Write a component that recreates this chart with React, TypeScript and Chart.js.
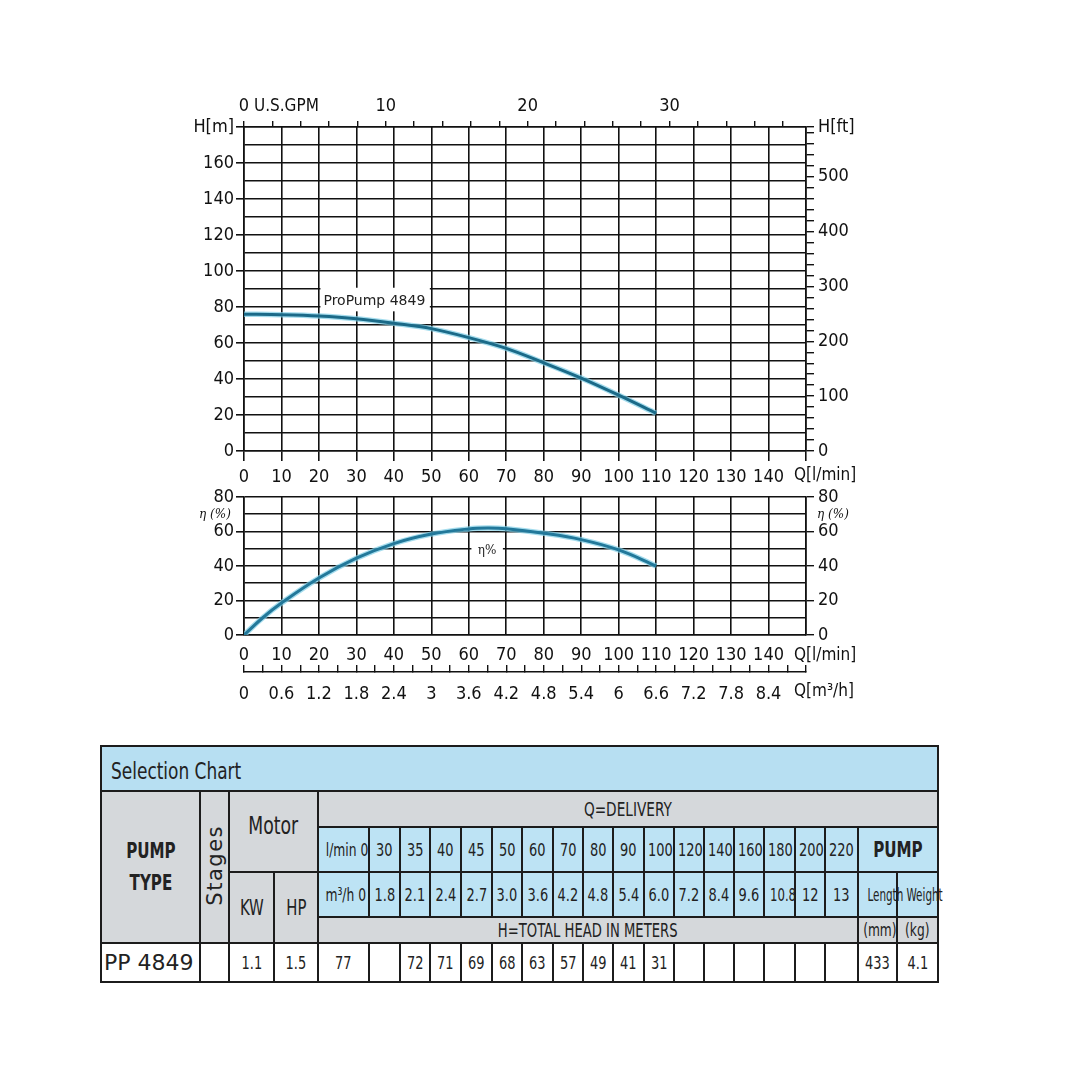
import { useEffect, useRef } from 'react';
import type { CSSProperties, ReactNode } from 'react';
import { Chart, registerables } from 'chart.js';
import type { Plugin } from 'chart.js';

Chart.register(...registerables);

// head curve (l/min -> m)
const headFlow = [0, 10, 20, 30, 40, 50, 60, 70, 80, 90, 100, 110];
const headM = [76, 75.7, 75, 73.5, 71, 68, 63, 57, 49, 40.5, 31, 21];

// efficiency curve (l/min -> %)
const effFlow = [0, 5, 10, 20, 30, 40, 50, 60, 65, 70, 80, 90, 100, 110];
const effPct = [0, 10, 18.5, 33, 44.5, 53, 58.5, 61.5, 62, 61.6, 59, 55.3, 49.3, 40];

// tick labels
const flowLabels = [0, 10, 20, 30, 40, 50, 60, 70, 80, 90, 100, 110, 120, 130, 140];
const headLabels = [0, 20, 40, 60, 80, 100, 120, 140, 160];
const ftLabels = [0, 100, 200, 300, 400, 500];
const gpmLabels = [0, 10, 20, 30];
const effLabels = [0, 20, 40, 60, 80];
const m3hLabels = ['0', '0.6', '1.2', '1.8', '2.4', '3', '3.6', '4.2', '4.8', '5.4', '6', '6.6', '7.2', '7.8', '8.4'];

// selection table
const tableLmin = ['30', '35', '40', '45', '50', '60', '70', '80', '90', '100', '120', '140', '160', '180', '200', '220'];
const tableM3h = ['1.8', '2.1', '2.4', '2.7', '3.0', '3.6', '4.2', '4.8', '5.4', '6.0', '7.2', '8.4', '9.6', '10.8', '12', '13'];
const tableHead = ['', '72', '71', '69', '68', '63', '57', '49', '41', '31', '', '', '', '', '', ''];
const colWidths = [99, 29, 45, 44, 51, 31, 30, 31, 31, 30, 31, 30, 30, 31, 30, 30, 30, 30, 31, 30, 33, 39, 41];

const FLOW_MAX = 150;
const HEAD_MAX = 180;
const LMIN_PER_GPM = 3.78541;
const FT_PER_M = 3.28084;

const INK = '#111';
const AXIS_FONT = '"DejaVu Sans Condensed", "DejaVu Sans", sans-serif';
const tickFont = { family: AXIS_FONT, size: 18 };
const CURVE = '#1b6a88';
const GLOW = 'rgba(125,205,230,0.7)';

const showEvery20 = (c: any) => (c.tick && c.tick.value % 20 === 0 ? INK : 'rgba(0,0,0,0)');

const headNotes: Plugin = {
  id: 'headNotes',
  afterDraw(chart) {
    const { ctx, chartArea: a, scales } = chart;
    const x = scales.x;
    const y = scales.y;
    ctx.save();
    ctx.fillStyle = INK;
    ctx.textBaseline = 'middle';
    ctx.textAlign = 'left';
    ctx.font = `17px ${AXIS_FONT}`;
    ctx.fillText('U.S.GPM', scales.x2.getPixelForValue(0) + 10, a.top - 20);
    ctx.fillText('Q[l/min]', a.right - 12, a.bottom + 25);
    const l = x.getPixelForValue(20) + 1.5;
    const r = x.getPixelForValue(49.6);
    const t = y.getPixelForValue(90.7);
    const b = y.getPixelForValue(77.6);
    ctx.fillStyle = '#fff';
    ctx.fillRect(l, t, r - l, b - t);
    ctx.fillStyle = '#222';
    ctx.font = '14px "DejaVu Sans", sans-serif';
    ctx.fillText('ProPump 4849', l + 3, (t + b) / 2 + 2);
    ctx.restore();
  },
};

const effNotes: Plugin = {
  id: 'effNotes',
  afterDraw(chart) {
    const { ctx, chartArea: a, scales } = chart;
    const x = scales.x;
    const y = scales.y;
    ctx.save();
    ctx.fillStyle = INK;
    ctx.textBaseline = 'middle';
    ctx.textAlign = 'center';
    ctx.font = 'italic 12px "DejaVu Serif", serif';
    ctx.fillText('η (%)', a.left - 29, y.getPixelForValue(70) + 1);
    ctx.fillText('η (%)', a.right + 27, y.getPixelForValue(70) + 1);
    const l = x.getPixelForValue(60.7);
    const r = x.getPixelForValue(69.1);
    const t = y.getPixelForValue(55);
    const b = y.getPixelForValue(42.3);
    ctx.fillStyle = '#fff';
    ctx.fillRect(l, t, r - l, b - t);
    ctx.fillStyle = '#222';
    ctx.font = '12px "DejaVu Serif", serif';
    ctx.fillText('η%', (l + r) / 2, (t + b) / 2);
    ctx.textAlign = 'left';
    ctx.fillStyle = INK;
    ctx.font = `17px ${AXIS_FONT}`;
    ctx.fillText('Q[l/min]', a.right - 12, a.bottom + 21);
    ctx.fillText('Q[m³/h]', a.right - 12, a.bottom + 57);
    ctx.restore();
  },
};

function HeadChart() {
  const canvasRef = useRef<HTMLCanvasElement>(null);

  useEffect(() => {
    if (!canvasRef.current) return;
    const pts = headFlow.map((q, i) => ({ x: q, y: headM[i] }));
    const chart = new Chart(canvasRef.current, {
      type: 'line',
      data: {
        datasets: [
          { data: pts, borderColor: CURVE, borderWidth: 3, pointRadius: 0, cubicInterpolationMode: 'monotone', order: 0 },
          { data: pts, borderColor: GLOW, borderWidth: 5.5, pointRadius: 0, cubicInterpolationMode: 'monotone', order: 1 },
        ],
      },
      options: {
        responsive: false,
        animation: false,
        events: [],
        layout: { padding: 0 },
        plugins: { legend: { display: false }, tooltip: { enabled: false } },
        scales: {
          x: {
            type: 'linear', position: 'bottom', min: 0, max: FLOW_MAX,
            ticks: { stepSize: 10, autoSkip: false, maxRotation: 0, font: tickFont, color: INK, padding: 6,
              callback: (v: any) => (flowLabels.includes(v) ? String(v) : '') },
            grid: { color: INK, lineWidth: 1.6, tickLength: 10 },
            border: { display: true, color: INK, width: 1.6 },
            afterFit: (s: any) => { s.height = 39; },
          },
          x2: {
            type: 'linear', position: 'top', min: 0, max: FLOW_MAX / LMIN_PER_GPM,
            afterBuildTicks: (s: any) => {
              const t = [];
              for (let v = 0; v <= 38; v += 2) t.push({ value: v });
              s.ticks = t;
            },
            ticks: { autoSkip: false, maxRotation: 0, font: tickFont, color: INK, padding: 4,
              callback: (v: any) => (gpmLabels.includes(v) ? String(v) : '') },
            grid: { drawOnChartArea: false, color: INK, lineWidth: 1.4, tickLength: 6 },
            border: { display: true, color: INK, width: 1.6 },
            afterFit: (s: any) => { s.height = 47; },
          },
          y: {
            type: 'linear', position: 'left', min: 0, max: HEAD_MAX,
            ticks: { stepSize: 10, autoSkip: false, font: tickFont, color: INK, padding: 2,
              callback: (v: any) => (v === HEAD_MAX ? 'H[m]' : headLabels.includes(v) ? String(v) : '') },
            grid: { color: INK, lineWidth: 1.6, tickLength: 8, tickColor: showEvery20 },
            border: { display: true, color: INK, width: 1.6 },
            afterFit: (s: any) => { s.width = 74; },
          },
          y2: {
            type: 'linear', position: 'right', min: 0, max: HEAD_MAX * FT_PER_M,
            afterBuildTicks: (s: any) => {
              const t = [];
              for (let v = 0; v <= 580; v += 20) t.push({ value: v });
              t.push({ value: HEAD_MAX * FT_PER_M });
              s.ticks = t;
            },
            ticks: { autoSkip: false, font: tickFont, color: INK, padding: 4,
              callback: (v: any) => (v > 585 ? 'H[ft]' : ftLabels.includes(v) ? String(v) : '') },
            grid: { drawOnChartArea: false, color: INK, lineWidth: 1.4, tickLength: 8 },
            border: { display: true, color: INK, width: 1.6 },
            afterFit: (s: any) => { s.width = 64; },
          },
        },
      },
      plugins: [headNotes],
    });
    return () => chart.destroy();
  }, []);

  return (
    <canvas ref={canvasRef} width={700} height={410}
      style={{ position: 'absolute', left: 170, top: 80, width: 700, height: 410 }} />
  );
}

function EffChart() {
  const canvasRef = useRef<HTMLCanvasElement>(null);

  useEffect(() => {
    if (!canvasRef.current) return;
    const pts = effFlow.map((q, i) => ({ x: q, y: effPct[i] }));
    const chart = new Chart(canvasRef.current, {
      type: 'line',
      data: {
        datasets: [
          { data: pts, borderColor: '#22789a', borderWidth: 3, pointRadius: 0, tension: 0.4, order: 0 },
          { data: pts, borderColor: GLOW, borderWidth: 5.5, pointRadius: 0, tension: 0.4, order: 1 },
        ],
      },
      options: {
        responsive: false,
        animation: false,
        events: [],
        layout: { padding: { top: 17 } },
        plugins: { legend: { display: false }, tooltip: { enabled: false } },
        scales: {
          x: {
            type: 'linear', position: 'bottom', min: 0, max: FLOW_MAX, weight: 0,
            ticks: { stepSize: 10, autoSkip: false, maxRotation: 0, font: tickFont, color: INK, padding: 10,
              callback: (v: any) => (flowLabels.includes(v) ? String(v) : '') },
            grid: { color: INK, lineWidth: 1.6, drawTicks: false },
            border: { display: true, color: INK, width: 1.6 },
            afterFit: (s: any) => { s.height = 37; },
          },
          x3: {
            type: 'linear', position: 'bottom', min: 0, max: 9, weight: 1,
            afterBuildTicks: (s: any) => {
              const t = [];
              for (let i = 0; i <= 30; i++) t.push({ value: i * 0.3 });
              s.ticks = t;
            },
            ticks: { autoSkip: false, maxRotation: 0, font: tickFont, color: INK, padding: 19,
              callback: (_v: any, i: number) => (i % 2 === 0 && i / 2 < m3hLabels.length ? m3hLabels[i / 2] : '') },
            grid: { drawOnChartArea: false, color: INK, lineWidth: 1.4, tickLength: -7 },
            border: { display: true, color: INK, width: 1.6 },
            afterFit: (s: any) => { s.height = 43; },
          },
          y: {
            type: 'linear', position: 'left', min: 0, max: 80,
            ticks: { stepSize: 10, autoSkip: false, font: tickFont, color: INK, padding: 2,
              callback: (v: any) => (effLabels.includes(v) ? String(v) : '') },
            grid: { color: INK, lineWidth: 1.6, tickLength: 8, tickColor: showEvery20 },
            border: { display: true, color: INK, width: 1.6 },
            afterFit: (s: any) => { s.width = 74; },
          },
          y2: {
            type: 'linear', position: 'right', min: 0, max: 80,
            ticks: { stepSize: 10, autoSkip: false, font: tickFont, color: INK, padding: 4,
              callback: (v: any) => (effLabels.includes(v) ? String(v) : '') },
            grid: { drawOnChartArea: false, color: INK, lineWidth: 1.4, tickLength: 8, tickColor: showEvery20 },
            border: { display: true, color: INK, width: 1.6 },
            afterFit: (s: any) => { s.width = 64; },
          },
        },
      },
      plugins: [effNotes],
    });
    return () => chart.destroy();
  }, []);

  return (
    <canvas ref={canvasRef} width={700} height={235}
      style={{ position: 'absolute', left: 170, top: 480, width: 700, height: 235 }} />
  );
}

const NARROW = '"DejaVu Sans Condensed", "DejaVu Sans", sans-serif';
const TITLE_BG = '#b7dff2';
const BLUE = '#bde3f4';
const GREY = '#d5d8db';
const LINE = '2px solid #1c1c1c';

// the sheet uses a very narrow face, so squeeze the condensed one
function Td({ bg, k = 0.8, left = false, children, style = {}, ...rest }:
  { bg: string; k?: number; left?: boolean; children?: ReactNode; style?: CSSProperties; colSpan?: number; rowSpan?: number }) {
  return (
    <td {...rest} style={{
      background: bg, border: LINE, padding: 0, textAlign: left ? 'left' : 'center', verticalAlign: 'middle',
      whiteSpace: 'nowrap', overflow: 'visible', fontSize: 18, ...style,
    }}>
      <span style={{ display: 'inline-block', transform: `scaleX(${k})`, transformOrigin: left ? 'left center' : 'center' }}>
        {children}
      </span>
    </td>
  );
}

function SelectionTable() {
  return (
    <table style={{
      position: 'absolute', left: 100, top: 745, width: 837, borderCollapse: 'collapse',
      tableLayout: 'fixed', fontFamily: NARROW, color: '#222',
    }}>
      <colgroup>
        {colWidths.map((w, i) => <col key={i} style={{ width: w }} />)}
      </colgroup>
      <tbody>
        <tr style={{ height: 45 }}>
          <Td bg={TITLE_BG} colSpan={23} left k={0.82} style={{ paddingLeft: 9, fontSize: 23, paddingTop: 4 }}>
            Selection Chart
          </Td>
        </tr>
        <tr style={{ height: 36 }}>
          <Td bg={GREY} rowSpan={4} style={{ fontWeight: 'bold', fontSize: 21, lineHeight: '32px' }}>PUMP<br />TYPE</Td>
          <td rowSpan={4} style={{ background: GREY, border: LINE, padding: 0, textAlign: 'center', verticalAlign: 'middle' }}>
            <span style={{
              display: 'inline-block', writingMode: 'vertical-rl', transform: 'rotate(180deg)',
              fontFamily: '"DejaVu Sans", sans-serif', fontSize: 21, letterSpacing: 1.5,
            }}>Stages</span>
          </td>
          <Td bg={GREY} colSpan={2} rowSpan={2} style={{ fontSize: 24, verticalAlign: 'top', paddingTop: 20 }}>Motor</Td>
          <Td bg={GREY} colSpan={19} k={0.76} style={{ fontSize: 20 }}>Q=DELIVERY</Td>
        </tr>
        <tr style={{ height: 45 }}>
          <Td bg={BLUE} k={0.76}>l/min 0</Td>
          {tableLmin.map((v, i) => <Td key={i} bg={BLUE}>{v}</Td>)}
          <Td bg={BLUE} colSpan={2} style={{ fontWeight: 'bold', fontSize: 21 }}>PUMP</Td>
        </tr>
        <tr style={{ height: 45 }}>
          <Td bg={GREY} rowSpan={2} k={0.75} style={{ fontSize: 22 }}>KW</Td>
          <Td bg={GREY} rowSpan={2} k={0.75} style={{ fontSize: 22 }}>HP</Td>
          <Td bg={BLUE} k={0.76}>m³/h 0</Td>
          {tableM3h.map((v, i) => <Td key={i} bg={BLUE} k={v.length > 3 ? 0.72 : 0.8}>{v}</Td>)}
          <Td bg={BLUE} k={0.68} style={{ fontSize: 17 }}>Length</Td>
          <Td bg={BLUE} k={0.68} style={{ fontSize: 17 }}>Weight</Td>
        </tr>
        <tr style={{ height: 26 }}>
          <Td bg={GREY} colSpan={17} k={0.77} style={{ fontSize: 19 }}>H=TOTAL HEAD IN METERS</Td>
          <Td bg={GREY} style={{ fontSize: 17 }}>(mm)</Td>
          <Td bg={GREY} style={{ fontSize: 17 }}>(kg)</Td>
        </tr>
        <tr style={{ height: 39 }}>
          <Td bg="#fff" left k={1} style={{ paddingLeft: 2, fontFamily: '"DejaVu Sans", sans-serif', fontSize: 22 }}>PP 4849</Td>
          <Td bg="#fff"></Td>
          <Td bg="#fff">1.1</Td>
          <Td bg="#fff">1.5</Td>
          <Td bg="#fff">77</Td>
          {tableHead.map((v, i) => <Td key={i} bg="#fff">{v}</Td>)}
          <Td bg="#fff">433</Td>
          <Td bg="#fff">4.1</Td>
        </tr>
      </tbody>
    </table>
  );
}

export default function App() {
  return (
    <div style={{ position: 'absolute', left: 0, top: 0, width: 1092, height: 1092, background: '#fff' }}>
      <HeadChart />
      <EffChart />
      <SelectionTable />
    </div>
  );
}
